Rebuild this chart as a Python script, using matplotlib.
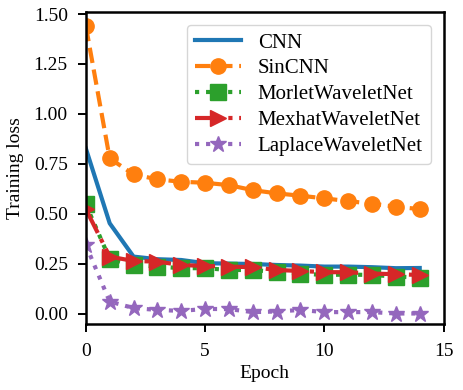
import matplotlib
matplotlib.use("Agg")
import matplotlib.pyplot as plt
import numpy as np

epochs = list(range(15))
cnn = [0.827, 0.452, 0.285, 0.272, 0.268, 0.252, 0.250, 0.248, 0.243, 0.240, 0.235, 0.235, 0.232, 0.227, 0.228]
sincnn = [1.44, 0.777, 0.697, 0.672, 0.660, 0.655, 0.643, 0.618, 0.602, 0.590, 0.577, 0.563, 0.550, 0.535, 0.523]
morlet = [0.547, 0.273, 0.243, 0.235, 0.227, 0.227, 0.218, 0.218, 0.207, 0.200, 0.193, 0.195, 0.193, 0.185, 0.180]
mexhat = [0.523, 0.285, 0.263, 0.260, 0.243, 0.238, 0.235, 0.232, 0.218, 0.213, 0.207, 0.207, 0.200, 0.197, 0.193]
laplace = [0.343, 0.060, 0.027, 0.018, 0.013, 0.023, 0.022, 0.007, 0.010, 0.018, 0.007, 0.007, 0.007, 0.000, 0.000]

plt.rcParams['font.family'] = ['Liberation Serif', 'DejaVu Serif']
plt.rcParams['font.size'] = 14

fig = plt.figure(figsize=(4.64, 3.90), dpi=100)
ax = fig.add_axes([0.185, 0.168, 0.771, 0.801])

ax.plot(epochs, cnn, '-', color='#1f77b4', lw=3, label='CNN')
ax.plot(epochs, sincnn, '--', color='#ff7f0e', lw=3, marker='o', ms=11, label='SinCNN')
ax.plot(epochs, morlet, ':', color='#2ca02c', lw=3, marker='s', ms=11, label='MorletWaveletNet')
ax.plot(epochs, mexhat, '-.', color='#d62728', lw=3, marker='>', ms=11, label='MexhatWaveletNet')
ax.plot(epochs, laplace, ':', color='#9467bd', lw=3, marker='*', ms=12, label='LaplaceWaveletNet')

ax.set_xlim(0, 15)
ax.set_ylim(-0.055, 1.51)
ax.set_xticks([0, 5, 10, 15])
ax.set_yticks([0, 0.25, 0.5, 0.75, 1.0, 1.25, 1.5])
ax.set_yticklabels(['0.00', '0.25', '0.50', '0.75', '1.00', '1.25', '1.50'])
ax.set_xlabel('Epoch', labelpad=4)
ax.set_ylabel('Training loss', labelpad=7)
for s in ax.spines.values():
    s.set_linewidth(1.8)
ax.tick_params(width=1.4, length=6, pad=7, labelsize=14)
ax.legend(loc='upper right', fontsize=15, handlelength=2.2, labelspacing=0.3,
          handletextpad=0.8, borderaxespad=0.6)

fig.savefig('out.png', dpi=100)
